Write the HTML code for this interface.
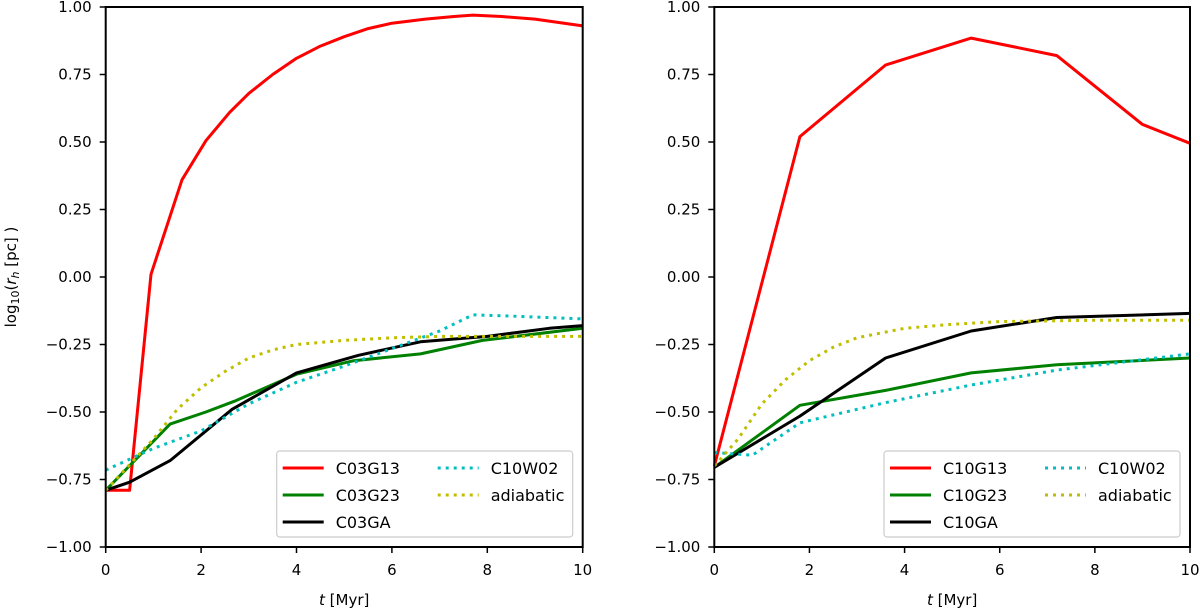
<!DOCTYPE html>
<html><head><meta charset="utf-8"><style>
body{margin:0;background:#fff;}
svg text{font-family:"DejaVu Sans","Liberation Sans",sans-serif;font-size:15px;fill:#000;}
</style></head><body>
<svg id="chart" width="1200" height="611"></svg>
<script>
const leftT1=[0,0.5,0.95,1.6,2.1,2.6,3.0,3.5,4.0,4.5,5.0,5.5,6.0,6.7,7.3,7.7,8.3,9.0,10];
const leftG13=[-0.79,-0.79,0.01,0.36,0.505,0.61,0.68,0.75,0.81,0.855,0.89,0.92,0.94,0.955,0.965,0.97,0.965,0.955,0.93];
const leftT2=[0,1.35,2.1,2.7,4.0,5.2,6.6,7.9,10];
const leftG23=[-0.79,-0.545,-0.5,-0.46,-0.36,-0.31,-0.285,-0.235,-0.19];
const leftT3=[0,0.5,1.35,2.65,4.0,5.3,6.6,8.0,9.3,10];
const leftGA=[-0.79,-0.76,-0.68,-0.49,-0.355,-0.29,-0.24,-0.22,-0.19,-0.18];
const leftT4=[0,1,2,3,4,5,6,7,7.7,8.5,10];
const leftW02=[-0.715,-0.635,-0.57,-0.47,-0.39,-0.33,-0.265,-0.2,-0.14,-0.145,-0.155];
const leftT5=[0,1,1.5,2,2.5,3,3.5,4,5,6,7,8,10];
const leftAd=[-0.79,-0.6,-0.49,-0.41,-0.35,-0.3,-0.27,-0.25,-0.235,-0.225,-0.22,-0.22,-0.22];
const rightT=[0,1.8,3.6,5.4,7.2,9,10];
const rightG13=[-0.7,0.52,0.785,0.885,0.82,0.565,0.495];
const rightT2=[0,1.8,3.6,5.4,7.2,10];
const rightG23=[-0.705,-0.475,-0.42,-0.355,-0.325,-0.3];
const rightGA=[-0.705,-0.515,-0.3,-0.2,-0.15,-0.135];
const rightT4=[0,0.8,1.8,3.6,5.4,7.2,10];
const rightW02=[-0.65,-0.66,-0.54,-0.465,-0.4,-0.345,-0.285];
const rightT5=[0,0.5,1,1.5,2,2.5,3,4,5,6,8,10];
const rightAd=[-0.7,-0.6,-0.47,-0.38,-0.31,-0.26,-0.225,-0.19,-0.175,-0.165,-0.16,-0.16];
const xTicks=[0,2,4,6,8,10];
const yTicks=[-1,-0.75,-0.5,-0.25,0,0.25,0.5,0.75,1];
const yTickLabels=["\u22121.00","\u22120.75","\u22120.50","\u22120.25","0.00","0.25","0.50","0.75","1.00"];

const NS="http://www.w3.org/2000/svg";
const svg=document.getElementById('chart');
function mk(tag,attrs,parent){const e=document.createElementNS(NS,tag);for(const k in attrs)e.setAttribute(k,attrs[k]);(parent||svg).appendChild(e);return e;}
const Y0=547,Y1=7;
function yS(v){return Y0-(v+1)/2*(Y0-Y1);}

function panel(x0,x1,series,legendNames,name){
  const g=mk('g',{});
  
  
  const xS=t=>x0+t/10*(x1-x0);
  series.forEach((s,i)=>{
    const d=s.t.map((t,j)=>(j?'L':'M')+xS(t).toFixed(1)+' '+yS(s.v[j]).toFixed(1)).join(' ');
    const p=mk('path',{d:d,fill:'none',stroke:s.c,'stroke-width':3,'stroke-dasharray':s.dash?'3 5':'none','stroke-linejoin':'round'},g);
    
    
  });
  const fr=mk('rect',{x:x0,y:Y1,width:x1-x0,height:Y0-Y1,fill:'none',stroke:'#000','stroke-width':2},g);
  
  
  xTicks.forEach(t=>{
    mk('line',{x1:xS(t),x2:xS(t),y1:Y0,y2:Y0+6,stroke:'#000','stroke-width':1.5},g);
    const tx=mk('text',{x:xS(t),y:Y0+28,'text-anchor':'middle'},g);tx.textContent=t;
    
    
  });
  yTicks.forEach((v,i)=>{
    mk('line',{x1:x0-6,x2:x0,y1:yS(v),y2:yS(v),stroke:'#000','stroke-width':1.5},g);
    const tx=mk('text',{x:x0-14,y:yS(v)+5,'text-anchor':'end'},g);tx.textContent=yTickLabels[i];
    
    
  });
  const xl=mk('text',{x:(x0+x1)/2,y:605,'text-anchor':'middle'},g);
  xl.innerHTML='<tspan font-style="italic">t</tspan> [Myr]';
  
  
  const lx=x1-306,ly=451;
  const lg=mk('g',{},g);
  
  
  mk('rect',{x:lx,y:ly,width:296,height:86,rx:3,fill:'#fff',stroke:'#ccc','stroke-width':1.2},lg);
  const pos=[[0,0],[0,1],[0,2],[1,0],[1,1]];
  series.forEach((s,i)=>{
    const px=lx+6+pos[i][0]*155, py=ly+17+pos[i][1]*27;
    const e=mk('g',{},lg);
    
    
    mk('line',{x1:px,x2:px+41,y1:py,y2:py,stroke:s.c,'stroke-width':3,'stroke-dasharray':s.dash?'3 5':'none'},e);
    const tx=mk('text',{x:px+53,y:py+6,style:'font-size:16px'},e);tx.textContent=legendNames[i];
  });
}
panel(105.7,582.7,[
 {t:leftT1,v:leftG13,c:'#ff0000',n:'c03g13'},
 {t:leftT2,v:leftG23,c:'#008000',n:'c03g23'},
 {t:leftT3,v:leftGA,c:'#000000',n:'c03ga'},
 {t:leftT4,v:leftW02,c:'#00bfbf',dash:1,n:'c10w02'},
 {t:leftT5,v:leftAd,c:'#bfbf00',dash:1,n:'adiabatic'}],
 ['C03G13','C03G23','C03GA','C10W02','adiabatic'],'left-panel');
panel(714.3,1190,[
 {t:rightT,v:rightG13,c:'#ff0000',n:'c10g13'},
 {t:rightT2,v:rightG23,c:'#008000',n:'c10g23'},
 {t:rightT2,v:rightGA,c:'#000000',n:'c10ga'},
 {t:rightT4,v:rightW02,c:'#00bfbf',dash:1,n:'c10w02'},
 {t:rightT5,v:rightAd,c:'#bfbf00',dash:1,n:'adiabatic'}],
 ['C10G13','C10G23','C10GA','C10W02','adiabatic'],'right-panel');
const yl=mk('text',{x:0,y:0,transform:'translate(16,277) rotate(-90)','text-anchor':'middle'});
yl.innerHTML='log<tspan font-size="11" dy="3">10</tspan><tspan dy="-3">(</tspan><tspan font-style="italic">r</tspan><tspan font-size="11" font-style="italic" dy="3">h</tspan><tspan dy="-3"> [pc] )</tspan>';


</script>
</body></html>
